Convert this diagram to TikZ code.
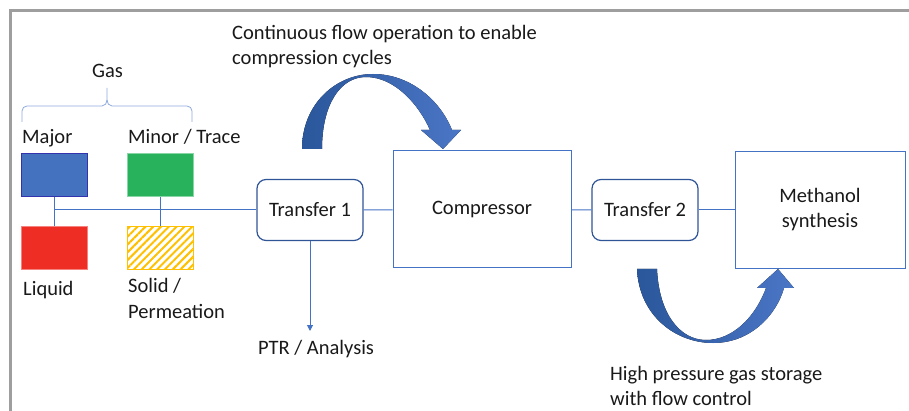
\documentclass[tikz,border=0pt]{standalone}
\usepackage{fontspec}
\setmainfont{Carlito}
\usetikzlibrary{arrows.meta,patterns.meta}

\definecolor{linkblue}{RGB}{68,114,196}
\definecolor{edgeblue}{RGB}{47,85,151}
\definecolor{arrowdark}{RGB}{42,86,155}
\definecolor{arrowlight}{RGB}{74,118,198}
\definecolor{majorblue}{RGB}{68,114,190}
\definecolor{minorgreen}{RGB}{40,178,92}
\definecolor{liquidred}{RGB}{238,46,36}
\definecolor{solidamber}{RGB}{255,192,0}

\tikzset{
  lbl/.style={inner sep=0pt, font=\fontsize{20.5}{25}\selectfont, text=black!90},
  pipe/.style={draw=linkblue, line width=1pt},
  unitbox/.style={draw=linkblue, line width=1pt, lbl, align=center},
  transferbox/.style={draw=edgeblue, line width=1.2pt, rounded corners=9pt, lbl,
    minimum width=106pt, minimum height=61pt},
  srcbox/.style={minimum width=66pt, minimum height=43pt, inner sep=0pt, line width=1pt},
  bigarrow/.style={left color=arrowdark, right color=arrowlight, draw=none}
}

\begin{document}
\begin{tikzpicture}[x=1pt,y=-1pt]
\useasboundingbox (0,0) rectangle (909,411);
\draw[black!38, line width=3pt] (10,411) -- (10,11) -- (909,11);

\node[srcbox, fill=majorblue, draw=blue!60!black!80] (major) at (54,175.5) {};
\node[srcbox, fill=minorgreen, draw=minorgreen!55] (minor) at (160,175.5) {};
\node[srcbox, fill=liquidred, draw=liquidred!60] (liquid) at (54,248.5) {};
\node[srcbox, draw=solidamber, pattern={Lines[angle=45,distance=5.5pt,line width=2pt]},
  pattern color=solidamber] (solid) at (160,248.5) {};

\node[lbl, anchor=base west] (majorlbl) at (22,144) {Major};
\node[lbl, anchor=base west] (minorlbl) at (128,144) {Minor / Trace};
\node[lbl, anchor=base west] (liquidlbl) at (23,295) {Liquid};
\node[lbl, anchor=base west, align=left] (solidlbl) at (128,318) {Solid /\\Permeation};
\node[lbl, anchor=base west] (gaslbl) at (92,78) {Gas};
\draw[linkblue!60, line width=0.8pt] (22,122) -- (22,111) to[out=90,in=180] (27,106)
  -- (102,106) to[out=0,in=-90] (107,100) -- (107,88);
\draw[linkblue!60, line width=0.8pt] (192,122) -- (192,111) to[out=90,in=0] (187,106)
  -- (112,106) to[out=180,in=-90] (107,100);

\node[transferbox] (tr1) at (310,210) {Transfer 1};
\node[unitbox, minimum width=178pt, minimum height=117pt] (comp) at (482,209.5) {Compressor};
\node[transferbox] (tr2) at (645,210) {Transfer 2};
\node[unitbox, minimum width=170pt, minimum height=117pt] (meoh) at (820,210)
  {\raisebox{-2pt}{Methanol}\\\raisebox{-2pt}{synthesis}};

\coordinate (junc) at (54,210);
\coordinate (ptrend) at (310,331);
\draw[pipe] (major) -- (liquid);
\draw[pipe] (minor) -- (minor |- solid.north);
\draw[pipe] (junc) -- (tr1);
\draw[pipe] (tr1) -- (comp);
\draw[pipe] (comp) -- (tr2);
\draw[pipe] (tr2) -- (meoh);
\draw[pipe, -{Triangle[width=6pt,length=6pt]}] (tr1) -- (ptrend);
\node[lbl, anchor=base west] (ptrlbl) at (258,354) {PTR / Analysis};

\fill[bigarrow] (302,149) .. controls (302,104) and (336,74) .. (373,74)
  .. controls (410,74) and (440,100) .. (452,130) -- (461,130) -- (443,149)
  -- (421,130) -- (430,130) .. controls (419,105) and (395,77) .. (366,77)
  .. controls (340,77) and (322,105) .. (322,149) -- cycle;
\fill[bigarrow] (637,269) .. controls (639,316) and (676,343) .. (713,343)
  .. controls (750,343) and (776,316) .. (784,288) -- (794,288) -- (778,269)
  -- (757,288) -- (766,288) .. controls (755,318) and (732,340) .. (706,340)
  .. controls (680,340) and (659,314) .. (657,269) -- cycle;

\node[lbl, anchor=base west, align=left] (cyclelbl) at (232,65)
  {Continuous flow operation to enable\\compression cycles};
\node[lbl, anchor=base west, align=left] (storelbl) at (610,405)
  {High pressure gas storage\\with flow control};
\end{tikzpicture}
\end{document}
